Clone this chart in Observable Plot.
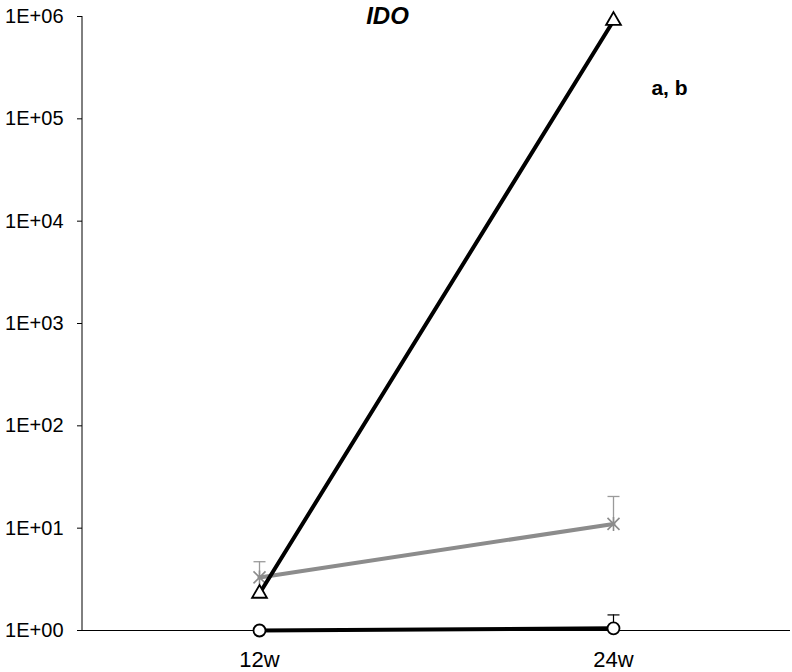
<!DOCTYPE html>
<html>
<head>
<meta charset="utf-8">
<script src="https://cdn.jsdelivr.net/npm/d3@7"></script>
<script src="https://cdn.jsdelivr.net/npm/@observablehq/plot@0.6"></script>
<style>
  html, body { margin: 0; padding: 0; background: #fff; }
  #chart svg { display: block; overflow: visible; }
</style>
</head>
<body>
<div id="chart"></div>
<script>
const categories = ["12w", "24w"];
const triangleValues = [2.3, 9.1e5];
const starValues = [3.3, 11];
const starUpper = [4.7, 20.4];
const circleValues = [1.0, 1.05];
const circleUpper = [null, 1.42];
const yTicks = [1, 10, 100, 1000, 10000, 100000, 1000000];
const titleText = "IDO";
const noteText = "a, b";
const noteValue = 2e5;

const tri = categories.map((c, i) => ({x: c, y: triangleValues[i]}));
const star = categories.map((c, i) => ({x: c, y: starValues[i], up: starUpper[i]}));
const circ = categories.map((c, i) => ({x: c, y: circleValues[i], up: circleUpper[i]}));

const capSymbol = {
  draw(ctx) { ctx.moveTo(-6, 0); ctx.lineTo(6, 0); }
};
const starSymbol = {
  draw(ctx) {
    const s = 6;
    ctx.moveTo(-s, -s); ctx.lineTo(s, s);
    ctx.moveTo(-s, s); ctx.lineTo(s, -s);
    ctx.moveTo(0, -s - 1); ctx.lineTo(0, s + 1);
  }
};

const leftAxisLine = (index, scales, values, dimensions) => {
  const g = d3.create("svg:g");
  g.append("line")
    .attr("x1", dimensions.marginLeft).attr("x2", dimensions.marginLeft)
    .attr("y1", scales.y(1e6)).attr("y2", scales.y(1))
    .attr("stroke", "#000").attr("stroke-width", 1);
  return g.node();
};

const fmt = d => "1E+" + String(Math.round(Math.log10(d))).padStart(2, "0");

const chart = Plot.plot({
  width: 792,
  height: 672,
  marginTop: 16,
  marginBottom: 42,
  marginLeft: 82,
  marginRight: 2,
  style: {fontFamily: "'Liberation Sans', Arial, sans-serif", background: "#fff"},
  x: {type: "point", domain: categories, padding: 0.5, label: null},
  y: {type: "log", domain: [1, 1e6], label: null},
  marks: [
    Plot.axisY({ticks: yTicks, tickFormat: fmt, tickSize: 5, tickPadding: 14, fontSize: 20, label: null, stroke: "#000", fill: "#000"}),
    Plot.axisX({tickSize: 0, tickPadding: 21, fontSize: 22, label: null, fill: "#000"}),
    Plot.ruleY([1], {stroke: "#000", strokeWidth: 1}),
    leftAxisLine,
    // error bars
    Plot.ruleX(star, {x: "x", y1: "y", y2: "up", stroke: "#9a9a9a", strokeWidth: 1.3}),
    Plot.dot(star, {x: "x", y: "up", symbol: capSymbol, stroke: "#9a9a9a", strokeWidth: 1.3}),
    Plot.ruleX(circ.filter(d => d.up != null), {x: "x", y1: "y", y2: "up", stroke: "#000", strokeWidth: 1.2}),
    Plot.dot(circ.filter(d => d.up != null), {x: "x", y: "up", symbol: capSymbol, stroke: "#000", strokeWidth: 1.2}),
    // lines
    Plot.line(circ, {x: "x", y: "y", stroke: "#000", strokeWidth: 4}),
    Plot.line(star, {x: "x", y: "y", stroke: "#8c8c8c", strokeWidth: 4}),
    // markers (star under triangle line)
    Plot.dot(star, {x: "x", y: "y", symbol: starSymbol, stroke: "#8c8c8c", strokeWidth: 1.6}),
    Plot.line(tri, {x: "x", y: "y", stroke: "#000", strokeWidth: 4}),
    Plot.dot(tri, {x: "x", y: "y", symbol: "triangle", r: 5.5, fill: "#fff", stroke: "#000", strokeWidth: 1.8}),
    Plot.dot(circ, {x: "x", y: "y", symbol: "circle", r: 6, fill: "#fff", stroke: "#000", strokeWidth: 1.8}),
    // annotations
    Plot.text([titleText], {frameAnchor: "top-left", textAnchor: "middle", dx: 305, dy: -10, lineAnchor: "top", text: d => d, fontSize: 24, fontWeight: "bold", fontStyle: "italic", fill: "#000"}),
    Plot.text([noteText], {x: () => "24w", y: () => noteValue, dx: 56, text: d => d, fontSize: 21, fontWeight: "bold", fill: "#000"})
  ]
});

document.getElementById("chart").appendChild(chart);
</script>
</body>
</html>
